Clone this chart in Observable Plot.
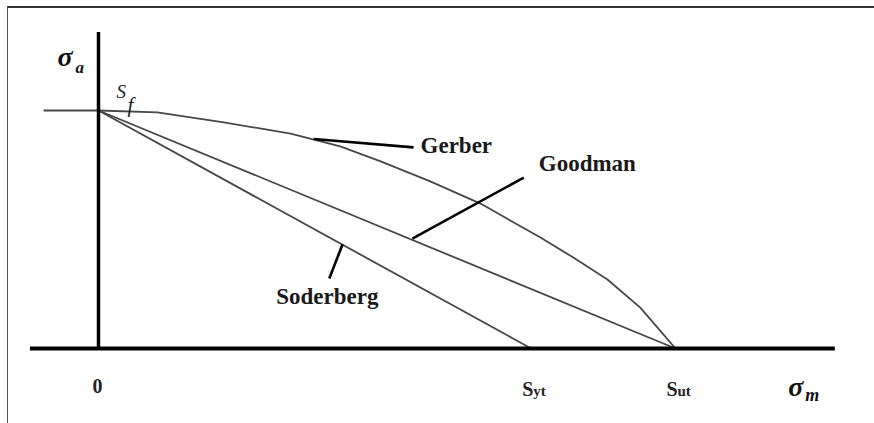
<!DOCTYPE html>
<html><head><meta charset="utf-8">
<script src="https://cdn.jsdelivr.net/npm/d3@7"></script>
<script src="https://cdn.jsdelivr.net/npm/@observablehq/plot@0.6"></script>
<style>
body{margin:0;background:#fff}
#wrap{position:relative;width:874px;height:423px;overflow:hidden;background:#fff}
#frame{position:absolute;left:7px;top:6px;right:-5px;bottom:-5px;border-top:2px solid #333;border-left:1.5px solid #555}
#chart{position:absolute;left:0;top:0}
</style></head><body>
<div id="wrap"><div id="frame"></div><div id="chart"></div></div>
<script>
// Values normalised: sigma_m / Sut, sigma_a / Sf
const Sut = 1.0;
const Syt = 0.75;
const Sf = 1.0;
const gerberX = [0, 0.102, 0.217, 0.333, 0.419, 0.489, 0.575, 0.662, 0.766, 0.823, 0.882, 0.939, 1.0];
const gerberY = [1, 0.992, 0.950, 0.903, 0.849, 0.786, 0.702, 0.609, 0.466, 0.382, 0.290, 0.172, 0];
const goodmanX = [0, Sut];
const goodmanY = [Sf, 0];
const soderbergX = [0, Syt];
const soderbergY = [Sf, 0];
const sfLineX = [-0.094, 0];
const curveNames = ["Gerber", "Goodman", "Soderberg"];
const tickNames = ["0", "S", "S"];
const tickSubs = ["", "yt", "ut"];
const tickValues = [0, Syt, Sut];

const zip = (xs, ys) => xs.map((x, i) => ({x, y: ys[i]}));
const gerber = zip(gerberX, gerberY);
const goodman = zip(goodmanX, goodmanY);
const soderberg = zip(soderbergX, soderbergY);
const sfLine = zip(sfLineX, [Sf, Sf]);

const serif = "'Liberation Serif', 'Times New Roman', serif";
const curveColor = "#474747";

// leader lines (start on curve, end at label)
const leaders = [
  {x1: 0.373, y1: 0.880, x2: 0.546, y2: 0.845},
  {x1: 0.544, y1: 0.462, x2: 0.737, y2: 0.718},
  {x1: 0.423, y1: 0.438, x2: 0.400, y2: 0.294}
];
const ticks = tickValues.map((v, i) => ({v, name: tickNames[i], sub: tickSubs[i]}));

const chart = Plot.plot({
  width: 874,
  height: 423,
  margin: 0,
  style: {background: "transparent", overflow: "visible"},
  x: {domain: [-98/577, 776/577], axis: null},
  y: {domain: [-75/238, 348/238], axis: null},
  marks: [
    // curves
    Plot.line(sfLine, {x: "x", y: "y", stroke: curveColor, strokeWidth: 1.8}),
    Plot.line(gerber, {x: "x", y: "y", stroke: curveColor, strokeWidth: 1.8, curve: "linear"}),
    Plot.line(goodman, {x: "x", y: "y", stroke: curveColor, strokeWidth: 1.8}),
    Plot.line(soderberg, {x: "x", y: "y", stroke: curveColor, strokeWidth: 1.8}),
    // axes
    Plot.ruleX([0], {y1: 0, y2: 1.328, stroke: "#000", strokeWidth: 3.5}),
    Plot.ruleY([0], {x1: -0.118, x2: 1.277, stroke: "#000", strokeWidth: 4}),
    // leaders
    Plot.link(leaders, {x1: "x1", y1: "y1", x2: "x2", y2: "y2", stroke: "#000", strokeWidth: 2.6}),
    // curve labels
    Plot.text([curveNames[0]], {x: leaders[0].x2, y: leaders[0].y2, text: d => d, dx: 7, dy: 6, textAnchor: "start", lineAnchor: "bottom", fontFamily: serif, fontWeight: "bold", fontSize: 23, fill: "#1a1a1a"}),
    Plot.text([curveNames[1]], {x: leaders[1].x2, y: leaders[1].y2, text: d => d, dx: 15, dy: -7, textAnchor: "start", lineAnchor: "bottom", fontFamily: serif, fontWeight: "bold", fontSize: 23, fill: "#1a1a1a"}),
    Plot.text([curveNames[2]], {x: leaders[2].x2, y: leaders[2].y2, text: d => d, dx: -2, dy: 25, textAnchor: "middle", lineAnchor: "bottom", fontFamily: serif, fontWeight: "bold", fontSize: 23, fill: "#1a1a1a"}),
    // tick labels
    Plot.text(ticks.filter(d => d.sub === ""), {x: "v", y: 0, text: "name", dx: -1, dy: 44, textAnchor: "middle", lineAnchor: "bottom", fontFamily: serif, fontWeight: "bold", fontSize: 20, fill: "#222"}),
    Plot.text(ticks.filter(d => d.sub !== ""), {x: "v", y: 0, text: "name", dx: 2, dy: 47, textAnchor: "end", lineAnchor: "bottom", fontFamily: serif, fontWeight: "bold", fontSize: 20, fill: "#222"}),
    Plot.text(ticks.filter(d => d.sub !== ""), {x: "v", y: 0, text: "sub", dx: 2, dy: 47, textAnchor: "start", lineAnchor: "bottom", fontFamily: serif, fontWeight: "bold", fontSize: 15, fill: "#222"}),
    // axis titles
    Plot.text(["σ"], {x: 0, y: Sf, text: d => d, dx: -41, dy: -45, textAnchor: "start", lineAnchor: "bottom", fontFamily: serif, fontWeight: "bold", fontStyle: "italic", fontSize: 28, fill: "#111"}),
    Plot.text(["a"], {x: 0, y: Sf, text: d => d, dx: -23, dy: -38, textAnchor: "start", lineAnchor: "bottom", fontFamily: serif, fontWeight: "bold", fontStyle: "italic", fontSize: 17, fill: "#111"}),
    Plot.text(["σ"], {x: 1.277, y: 0, text: d => d, dx: -47, dy: 47, textAnchor: "start", lineAnchor: "bottom", fontFamily: serif, fontWeight: "bold", fontStyle: "italic", fontSize: 28, fill: "#111"}),
    Plot.text(["m"], {x: 1.277, y: 0, text: d => d, dx: -30, dy: 52, textAnchor: "start", lineAnchor: "bottom", fontFamily: serif, fontWeight: "bold", fontStyle: "italic", fontSize: 18, fill: "#111"}),
    // S_f label
    Plot.text(["S"], {x: 0, y: Sf, text: d => d, dx: 18, dy: -13, textAnchor: "start", lineAnchor: "bottom", fontFamily: serif, fontStyle: "italic", fontSize: 19, fill: "#222"}),
    Plot.text(["f"], {x: 0, y: Sf, text: d => d, dx: 29, dy: 1, textAnchor: "start", lineAnchor: "bottom", fontFamily: serif, fontStyle: "italic", fontSize: 21, fill: "#222"})
  ]
});
document.getElementById("chart").appendChild(chart);
</script>
</body></html>
